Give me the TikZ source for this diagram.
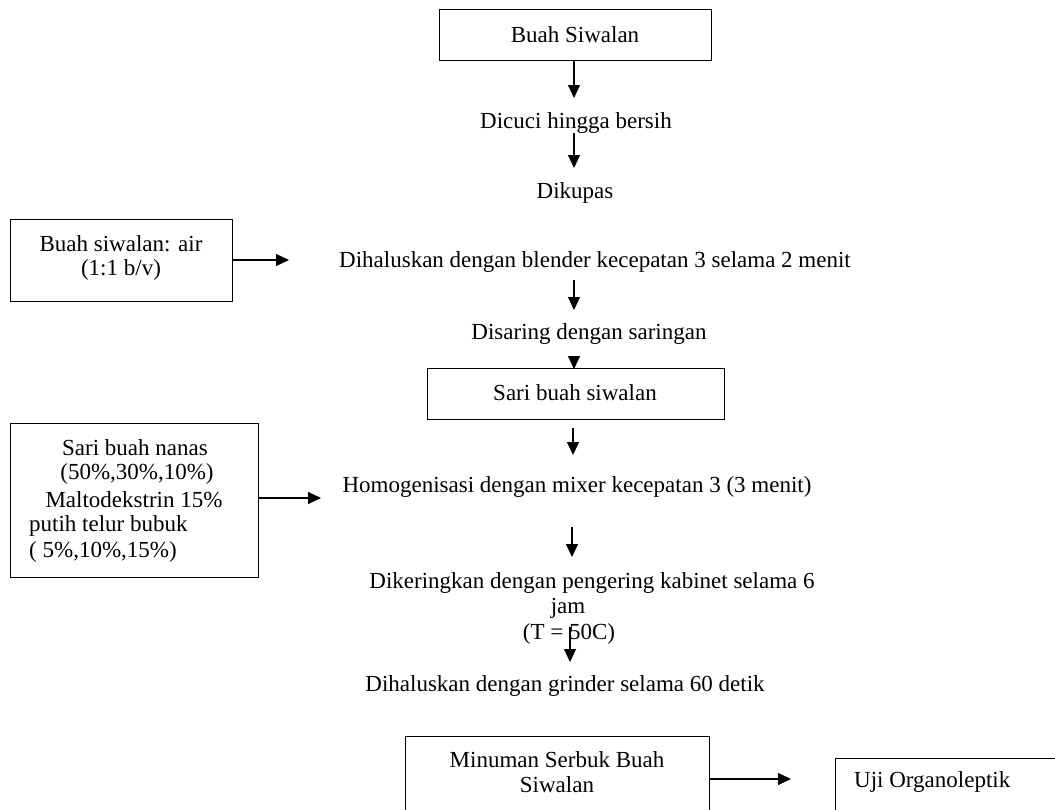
\documentclass[tikz,border=0pt]{standalone}
\usepackage{fontspec}
\setmainfont{Liberation Serif}
\usetikzlibrary{arrows.meta}
\begin{document}
\begin{tikzpicture}[x=1pt,y=-1pt,
  every node/.style={font=\fontsize{23}{24}\selectfont, inner sep=0pt},
  txt/.style={anchor=center},
  boxnode/.style={draw, line width=1.3pt, anchor=north west},
  arr/.style={line width=1.2pt, -{Triangle[length=13pt,width=12pt]}}]
\clip (0,0) rectangle (1055,809);
\fill[white] (0,0) rectangle (1055,809);
% boxes
\node[boxnode, minimum width=272pt, minimum height=51pt] (b1) at (439,9) {};
\node[txt] (t1) at (575,35) {Buah Siwalan};
\node[txt] (t2) at (576,123) {Dicuci hingga bersih};
\node[txt] (t3) at (575,193) {Dikupas};
\node[boxnode, minimum width=222pt, minimum height=82pt] (b2) at (10,219) {};
\node[txt] (b2a) at (121,244) {Buah siwalan: air};
\node[txt] (b2b) at (121,270) {(1:1 b/v)};
\node[txt] (t4) at (595,262) {Dihaluskan dengan blender kecepatan 3 selama 2 menit};
\node[txt] (t5) at (589,334) {Disaring dengan saringan};
\node[boxnode, minimum width=297pt, minimum height=51pt] (b3) at (427,368) {};
\node[txt] (t6) at (575,393) {Sari buah siwalan};
\node[boxnode, minimum width=248pt, minimum height=154pt] (b4) at (10,423) {};
\node[txt] (b4a) at (135,448) {Sari buah nanas};
\node[txt] (b4b) at (137,474) {(50\%,30\%,10\%)};
\node[txt] (b4c) at (134,500) {Maltodekstrin 15\%};
\node[anchor=west] (b4d) at (29,526) {putih telur bubuk};
\node[anchor=west] (b4e) at (29,552) {( 5\%,10\%,15\%)};
\node[txt] (t7) at (577,487) {Homogenisasi dengan mixer kecepatan 3 (3 menit)};
\node[txt] (t8) at (592,583) {Dikeringkan dengan pengering kabinet selama 6};
\node[txt] (t8b) at (568,608) {jam};
\node[txt] (t8c) at (569,634) {(T = 50C)};
\node[txt] (t9) at (565,686) {Dihaluskan dengan grinder selama 60 detik};
\node[boxnode, minimum width=304pt, minimum height=120pt] (b5) at (405,736) {};
\node[txt] (b5a) at (557,760) {Minuman Serbuk Buah};
\node[txt] (b5b) at (557,785) {Siwalan};
\node[boxnode, minimum width=320pt, minimum height=120pt] (b6) at (835,758) {};
\node[anchor=west] (b6a) at (854,782) {Uji Organoleptik};
% arrow coordinates
\coordinate (a1s) at (574,61);  \coordinate (a1e) at (574,98);
\coordinate (a2s) at (574,133); \coordinate (a2e) at (574,168);
\coordinate (a3s) at (574,280); \coordinate (a3e) at (574,310);
\coordinate (a4s) at (574,356); \coordinate (a4e) at (574,369);
\coordinate (a5s) at (573,428); \coordinate (a5e) at (573,455);
\coordinate (a6s) at (572,527); \coordinate (a6e) at (572,557);
\coordinate (a7s) at (570,627); \coordinate (a7e) at (570,662);
\coordinate (h1e) at (289,260);
\coordinate (h2e) at (321,498);
\coordinate (h3e) at (791,779);
\draw[arr] (a1s) -- (a1e);
\draw[arr] (a2s) -- (a2e);
\draw[arr] (a3s) -- (a3e);
\draw[arr] (a4s) -- (a4e);
\draw[arr] (a5s) -- (a5e);
\draw[arr] (a6s) -- (a6e);
\draw[arr] (a7s) -- (a7e);
\draw[arr] (b2.east |- h1e) -- (h1e);
\draw[arr] (b4.east |- h2e) -- (h2e);
\draw[arr] (b5.east |- h3e) -- (h3e);
\end{tikzpicture}
\end{document}
